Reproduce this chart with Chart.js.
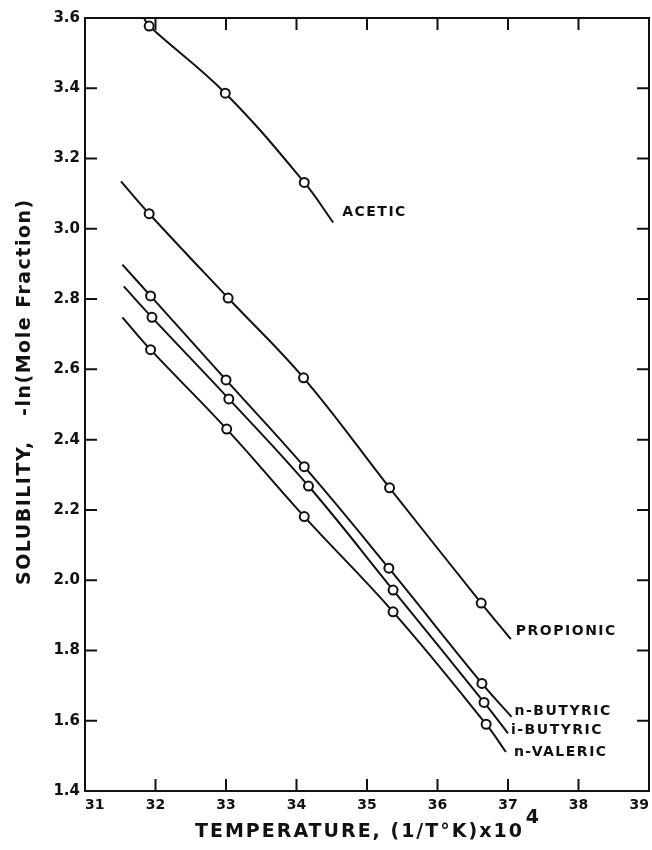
<!DOCTYPE html>
<html>
<head>
<meta charset="utf-8">
<script src="https://cdn.jsdelivr.net/npm/chart.js@4.4.1/dist/chart.umd.min.js"></script>
<style>
  html, body { margin: 0; padding: 0; background: #fff; overflow: hidden; }
  #wrap { width: 652px; height: 850px; }
</style>
</head>
<body>
<div id="wrap"><canvas id="solubility-chart" width="652" height="850"></canvas></div>
<script>
// --- data: 1/T x 10^4 vs -ln(mole fraction) ---
const acidNames = ['ACETIC', 'PROPIONIC', 'n-BUTYRIC', 'i-BUTYRIC', 'n-VALERIC'];

const aceticX = [31.91, 32.99, 34.11];
const aceticY = [3.577, 3.386, 3.132];
const propionicX = [31.91, 33.03, 34.10, 35.32, 36.62];
const propionicY = [3.043, 2.803, 2.576, 2.263, 1.935];
const nButyricX = [31.93, 33.00, 34.11, 35.31, 36.63];
const nButyricY = [2.809, 2.570, 2.323, 2.034, 1.706];
const iButyricX = [31.95, 33.04, 34.17, 35.37, 36.66];
const iButyricY = [2.748, 2.516, 2.268, 1.972, 1.652];
const nValericX = [31.93, 33.01, 34.11, 35.37, 36.69];
const nValericY = [2.656, 2.430, 2.181, 1.910, 1.590];

// where each drawn curve begins and ends (same order as acidNames)
const curveStartX = [31.84, 31.51, 31.53, 31.55, 31.53];
const curveStartY = [3.598, 3.135, 2.898, 2.836, 2.748];
const curveEndX = [34.52, 37.04, 37.05, 37.00, 36.97];
const curveEndY = [3.018, 1.832, 1.611, 1.564, 1.511];

const xTicks = [31, 32, 33, 34, 35, 36, 37, 38, 39];
const yTicks = [1.4, 1.6, 1.8, 2.0, 2.2, 2.4, 2.6, 2.8, 3.0, 3.2, 3.4, 3.6];

const measuredX = [aceticX, propionicX, nButyricX, iButyricX, nValericX];
const measuredY = [aceticY, propionicY, nButyricY, iButyricY, nValericY];

const INK = '#111';
const FONT = '"DejaVu Sans", sans-serif';

function toPoints(xs, ys) {
    return xs.map((x, i) => ({ x: x, y: ys[i] }));
}

const datasets = [];
acidNames.forEach((name, i) => {
    // smooth curve through the points
    datasets.push({
        label: name + ' curve',
        data: [{ x: curveStartX[i], y: curveStartY[i] }]
            .concat(toPoints(measuredX[i], measuredY[i]))
            .concat([{ x: curveEndX[i], y: curveEndY[i] }]),
        showLine: true,
        borderColor: INK,
        borderWidth: 2,
        pointRadius: 0,
        tension: 0.4,
        order: 2
    });
    // open circles for the measurements
    datasets.push({
        label: name,
        data: toPoints(measuredX[i], measuredY[i]),
        showLine: false,
        pointRadius: 4.5,
        pointBorderWidth: 2,
        pointBorderColor: INK,
        pointBackgroundColor: '#fff',
        order: 1
    });
});

// frame, inward tick marks, axis titles and curve labels
const decorPlugin = {
    id: 'decor',
    afterDraw(chart) {
        const ctx = chart.ctx;
        const a = chart.chartArea;
        const xs = chart.scales.x;
        const ys = chart.scales.y;
        const tick = 12;
        ctx.save();
        ctx.strokeStyle = INK;
        ctx.lineWidth = 2;
        ctx.strokeRect(a.left, a.top, a.right - a.left, a.bottom - a.top);

        ctx.beginPath();
        xs.ticks.forEach(t => {
            if (t.value <= xs.min || t.value >= xs.max) return;
            const px = xs.getPixelForValue(t.value);
            ctx.moveTo(px, a.bottom); ctx.lineTo(px, a.bottom - tick);
            ctx.moveTo(px, a.top); ctx.lineTo(px, a.top + tick);
        });
        ys.ticks.forEach(t => {
            if (t.value <= ys.min + 1e-9 || t.value >= ys.max - 1e-9) return;
            const py = ys.getPixelForValue(t.value);
            ctx.moveTo(a.left, py); ctx.lineTo(a.left + tick, py);
            ctx.moveTo(a.right, py); ctx.lineTo(a.right - tick, py);
        });
        ctx.stroke();

        ctx.fillStyle = INK;
        // x title
        ctx.font = 'bold 19px ' + FONT;
        ctx.letterSpacing = '2px';
        ctx.textAlign = 'left';
        ctx.textBaseline = 'alphabetic';
        const xTitle = 'TEMPERATURE, (1/T°K)x10';
        ctx.fillText(xTitle, 195, 837);
        const w = ctx.measureText(xTitle).width;
        ctx.fillText('4', 195 + w + 2, 823);

        // y title
        ctx.save();
        ctx.translate(30, 585);
        ctx.rotate(-Math.PI / 2);
        ctx.letterSpacing = '1.5px';
        ctx.fillText('SOLUBILITY,   -ln(Mole Fraction)', 0, 0);
        ctx.restore();

        // curve labels next to the curve ends
        const offsets = [[9, -10], [5, -8], [3, -6], [3, -3], [8, 0]];
        ctx.font = 'bold 14px ' + FONT;
        ctx.letterSpacing = '1.5px';
        ctx.textBaseline = 'middle';
        acidNames.forEach((name, i) => {
            const px = xs.getPixelForValue(curveEndX[i]) + offsets[i][0];
            const py = ys.getPixelForValue(curveEndY[i]) + offsets[i][1];
            ctx.fillText(name, px, py);
        });
        ctx.restore();
    }
};

const chart = new Chart(document.getElementById('solubility-chart').getContext('2d'), {
    type: 'scatter',
    data: { datasets: datasets },
    options: {
        responsive: false,
        animation: false,
        devicePixelRatio: 1,
        layout: { autoPadding: false, padding: { top: 18, right: 3, left: 0, bottom: 0 } },
        plugins: { legend: { display: false }, tooltip: { enabled: false } },
        scales: {
            x: {
                type: 'linear',
                min: xTicks[0],
                max: xTicks[xTicks.length - 1],
                afterBuildTicks(scale) { scale.ticks = xTicks.map(v => ({ value: v })); },
                afterFit(scale) {
                    scale.height = 59;
                    scale.paddingLeft = 0;
                    scale.paddingRight = 0;
                },
                grid: { display: false, drawTicks: false },
                border: { display: false },
                ticks: {
                    align: 'inner',
                    padding: 6,
                    color: INK,
                    font: { family: FONT, size: 14, weight: 'bold' },
                    callback: v => String(v)
                }
            },
            y: {
                type: 'linear',
                min: yTicks[0],
                max: yTicks[yTicks.length - 1],
                afterBuildTicks(scale) { scale.ticks = yTicks.map(v => ({ value: v })); },
                afterFit(scale) { scale.width = 85; },
                grid: { display: false, drawTicks: false },
                border: { display: false },
                ticks: {
                    padding: 5,
                    color: INK,
                    font: { family: FONT, size: 15, weight: 'bold' },
                    callback: v => Number(v).toFixed(1)
                }
            }
        }
    },
    plugins: [decorPlugin]
});
</script>
</body>
</html>
